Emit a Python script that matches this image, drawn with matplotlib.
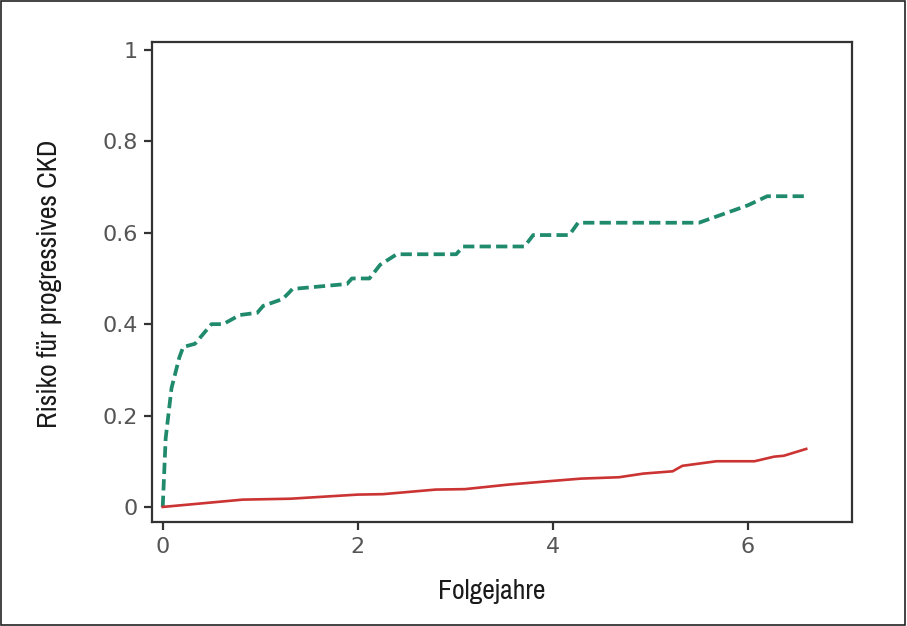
import matplotlib
matplotlib.use("Agg")
import matplotlib.pyplot as plt
from matplotlib import font_manager
from matplotlib.patches import Rectangle

# Daten
green_t = [0, 0.03, 0.09, 0.17, 0.21, 0.33, 0.5, 0.62, 0.79, 0.97, 1.03, 1.23,
           1.3, 1.33, 1.89, 1.94, 2.12, 2.23, 2.4, 3.01, 3.08, 3.71, 3.8, 4.17,
           4.26, 5.5, 6.0, 6.2, 6.6]
green_v = [0, 0.15, 0.26, 0.327, 0.35, 0.357, 0.40, 0.40, 0.42, 0.425, 0.44, 0.455,
           0.47, 0.477, 0.488, 0.50, 0.50, 0.53, 0.553, 0.553, 0.57, 0.57, 0.595, 0.595,
           0.622, 0.622, 0.66, 0.68, 0.68]

red_t = [0, 0.82, 1.31, 2.0, 2.26, 2.8, 3.1, 3.55, 4.0, 4.29, 4.68, 4.93, 5.23,
         5.33, 5.68, 6.07, 6.27, 6.37, 6.6]
red_v = [0, 0.016, 0.018, 0.027, 0.028, 0.038, 0.039, 0.049, 0.057, 0.062, 0.065,
         0.073, 0.078, 0.09, 0.10, 0.10, 0.11, 0.112, 0.127]

x_ticks = [0, 2, 4, 6]
y_ticks = [0, 0.2, 0.4, 0.6, 0.8, 1]
y_tick_labels = ["0", "0.2", "0.4", "0.6", "0.8", "1"]

# schmale Schrift fuer die Achsentitel suchen, falls vorhanden
narrow = None
for f in font_manager.fontManager.ttflist:
    if "Narrow" in f.name or "Condensed" in f.name:
        narrow = f.name
        break
    if f.stretch in ("condensed", "semi-condensed") and "DejaVu" in f.name:
        narrow = f.name
label_font = [narrow, "DejaVu Sans"] if narrow else ["DejaVu Sans"]

fig = plt.figure(figsize=(9.07, 6.26), dpi=100)
ax = fig.add_axes([0.1676, 0.1661, 0.7718, 0.7668])

ax.plot(green_t, green_v, color="#1f8a6c", lw=2.7, linestyle=(0, (3.0, 1.4)))
ax.plot(red_t, red_v, color="#cc3333", lw=1.9)

ax.set_xlim(-0.11, 7.07)
ax.set_ylim(-0.033, 1.0175)
ax.set_xticks(x_ticks)
ax.set_yticks(y_ticks)
ax.set_yticklabels(y_tick_labels)

for s in ax.spines.values():
    s.set_color("#333333")
    s.set_linewidth(1.6)
ax.tick_params(direction="out", length=5.5, width=1.6, color="#333333",
               labelsize=16, labelcolor="#555555", pad=5)
for lab in ax.get_xticklabels() + ax.get_yticklabels():
    lab.set_family(["DejaVu Sans"])

ax.set_xlabel("Folgejahre", fontsize=20, family=label_font, fontstretch="condensed",
              color="#1a1a1a")
ax.set_ylabel("Risiko für progressives CKD", fontsize=20, family=label_font,
              fontstretch="condensed", color="#1a1a1a")
ax.xaxis.set_label_coords(0.486, -0.118)
ax.yaxis.set_label_coords(-0.128, 0.496)

# Rahmen um die ganze Abbildung
fig.patches.append(Rectangle((0.001, 0.002), 0.997, 0.996, transform=fig.transFigure,
                             fill=False, edgecolor="#222222", lw=1.2))

fig.savefig("out.png", dpi=100)
